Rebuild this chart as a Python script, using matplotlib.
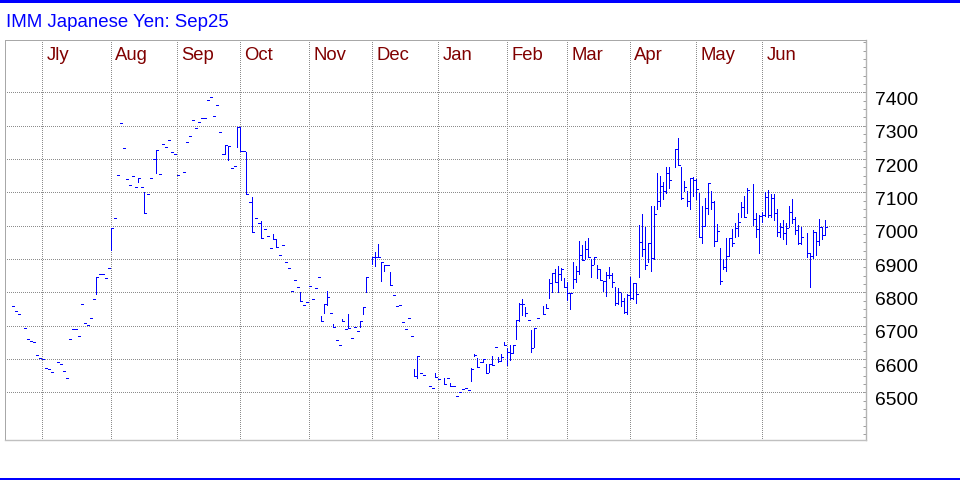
import matplotlib
matplotlib.use("Agg")
import matplotlib.pyplot as plt
import matplotlib.transforms as mtransforms
from matplotlib.patches import Rectangle
from matplotlib.ticker import MultipleLocator

plt.rcParams['font.family'] = ['Liberation Sans', 'DejaVu Sans']

title = "IMM Japanese Yen: Sep25"

# first trading slot of each month
month_names = ['Jly', 'Aug', 'Sep', 'Oct', 'Nov', 'Dec', 'Jan', 'Feb', 'Mar', 'Apr', 'May', 'Jun']
month_slots = [14, 37, 59, 80, 103, 124, 146, 169, 189, 210, 232, 254]

price_ticks = [6500, 6600, 6700, 6800, 6900, 7000, 7100, 7200, 7300, 7400]

# days with only a settlement (no traded range)
tick_day = [4, 5, 6, 8, 9, 10, 11, 12, 13, 14, 15, 16, 17, 19, 20, 21, 22, 23, 24, 25,
            26, 27, 28, 29, 30, 31, 33, 34, 35, 36, 38, 39, 40, 41, 42, 43, 44, 45, 47, 49,
            50, 51, 53, 54, 55, 56, 57, 58, 59, 61, 62, 63, 64, 65, 66, 67, 68, 69, 70, 71,
            72, 73, 74, 77, 78, 81, 83, 85, 86, 88, 89, 90, 93, 94, 95, 96, 97, 98, 99, 101,
            102, 103, 104, 105, 106, 110, 112, 113, 115, 117, 118, 119, 129, 131, 132, 133, 134, 135, 136, 137,
            140, 141, 143, 144, 146, 149, 151, 152, 153, 154, 155, 156, 160, 165, 176, 179]
tick_close = [6758, 6743, 6734, 6692, 6659, 6653, 6650, 6611, 6603, 6600, 6572, 6569, 6560, 6590, 6584, 6563, 6542, 6659, 6689, 6689,
              6668, 6764, 6707, 6701, 6722, 6779, 6854, 6854, 6842, 6872, 7022, 7151, 7307, 7232, 7139, 7121, 7148, 7115, 7115, 7094,
              7142, 7199, 7154, 7244, 7235, 7256, 7220, 7214, 7151, 7160, 7250, 7268, 7316, 7292, 7310, 7322, 7322, 7376, 7385, 7328,
              7361, 7280, 7214, 7172, 7178, 7223, 7070, 7022, 7007, 6989, 6968, 6932, 6911, 6941, 6890, 6872, 6803, 6836, 6815, 6761,
              6770, 6818, 6779, 6812, 6845, 6737, 6656, 6641, 6689, 6663, 6695, 6683, 6883, 6791, 6758, 6761, 6710, 6689, 6722, 6668,
              6557, 6551, 6518, 6512, 6539, 6542, 6518, 6488, 6500, 6509, 6512, 6506, 6590, 6635, 6716, 6722]

# traded days: high / low / close
bar_day = [32, 37, 46, 48, 52, 75, 76, 79, 80, 82,
           84, 87, 91, 92, 100, 107, 108, 109, 111, 114,
           116, 120, 121, 122, 124, 125, 126, 127, 128, 130,
           138, 139, 145, 148, 150, 157, 158, 159, 161, 162,
           163, 164, 166, 167, 168, 169, 170, 171, 172, 173,
           174, 175, 177, 178, 181, 182, 183, 184, 185, 186,
           187, 188, 189, 190, 191, 192, 193, 194, 195, 196,
           197, 198, 199, 200, 201, 202, 203, 204, 205, 206,
           207, 208, 209, 210, 211, 212, 213, 214, 215, 216,
           217, 218, 219, 220, 221, 222, 223, 225, 226, 227,
           228, 229, 230, 231, 232, 233, 234, 235, 236, 237,
           238, 239, 240, 241, 242, 243, 244, 245, 246, 247,
           248, 249, 251, 252, 253, 254, 255, 256, 257, 258,
           259, 260, 261, 262, 263, 264, 265, 266, 267, 269,
           270, 271, 272, 273, 274, 275]
bar_high = [6845, 6992, 7142, 7100, 7226, 7241, 7238, 7295, 7295, 7221,
            7085, 7014, 6974, 6959, 6800, 6728, 6764, 6803, 6704, 6719,
            6734, 6713, 6755, 6845, 6905, 6920, 6944, 6890, 6883, 6860,
            6569, 6608, 6557, 6542, 6527, 6572, 6614, 6602, 6599, 6584,
            6584, 6608, 6605, 6614, 6650, 6632, 6641, 6641, 6716, 6767,
            6779, 6755, 6686, 6692, 6758, 6764, 6839, 6857, 6869, 6878,
            6872, 6842, 6830, 6797, 6890, 6878, 6953, 6941, 6953, 6962,
            6899, 6905, 6881, 6869, 6833, 6860, 6875, 6857, 6815, 6812,
            6797, 6782, 6794, 6845, 6827, 6827, 7001, 7035, 6995, 6949,
            7059, 7059, 7159, 7149, 7131, 7175, 7175, 7229, 7262, 7175,
            7134, 7104, 7144, 7145, 7139, 7097, 7059, 7084, 7129, 7104,
            7074, 7004, 6934, 6899, 6964, 6964, 6989, 7007, 7037, 7070,
            7089, 7112, 7125, 7037, 7032, 7040, 7102, 7107, 7094, 7094,
            7049, 7007, 7017, 7007, 7059, 7079, 7027, 7002, 6997, 6979,
            6917, 6987, 6982, 7019, 6997, 7017]
bar_low = [6794, 6927, 7132, 7037, 7157, 7214, 7196, 7235, 7223, 7094,
           6982, 6962, 6959, 6935, 6773, 6713, 6739, 6761, 6695, 6713,
           6692, 6695, 6734, 6800, 6884, 6878, 6905, 6833, 6865, 6821,
           6548, 6542, 6545, 6524, 6518, 6533, 6608, 6575, 6590, 6557,
           6560, 6581, 6590, 6593, 6641, 6581, 6597, 6617, 6659, 6713,
           6731, 6728, 6620, 6635, 6734, 6752, 6782, 6800, 6830, 6800,
           6836, 6815, 6776, 6751, 6812, 6830, 6854, 6896, 6899, 6905,
           6845, 6884, 6842, 6836, 6803, 6788, 6842, 6815, 6761, 6764,
           6758, 6737, 6734, 6779, 6779, 6767, 6845, 6910, 6869, 6890,
           6865, 6899, 7049, 7059, 7079, 7099, 7114, 7177, 7182, 7079,
           7104, 7059, 7049, 7089, 7079, 6965, 6949, 6999, 7034, 7049,
           6939, 6954, 6825, 6869, 6865, 6909, 6939, 6967, 6969, 7027,
           7027, 7037, 7002, 6967, 6919, 7010, 7029, 7027, 7027, 7017,
           6970, 6967, 6959, 6944, 6997, 7007, 6974, 6945, 6945, 6905,
           6817, 6902, 6912, 6942, 6959, 6972]
bar_close = [6845, 6992, 7142, 7037, 7226, 7241, 7238, 7295, 7223, 7094,
             6982, 6962, 6959, 6935, 6773, 6713, 6764, 6785, 6695, 6713,
             6692, 6713, 6755, 6845, 6905, 6905, 6905, 6890, 6883, 6821,
             6548, 6608, 6545, 6524, 6518, 6569, 6611, 6575, 6599, 6557,
             6584, 6581, 6593, 6605, 6641, 6620, 6617, 6641, 6716, 6764,
             6764, 6737, 6632, 6692, 6734, 6752, 6827, 6857, 6830, 6854,
             6869, 6815, 6797, 6797, 6839, 6863, 6911, 6896, 6929, 6905,
             6881, 6905, 6869, 6836, 6833, 6851, 6851, 6830, 6767, 6800,
             6773, 6740, 6791, 6782, 6827, 6794, 6950, 6930, 6882, 6949,
             6904, 7034, 7074, 7119, 7104, 7159, 7136, 7229, 7182, 7084,
             7116, 7074, 7144, 7136, 7109, 6965, 6999, 7052, 7127, 7072,
             6954, 6984, 6835, 6877, 6910, 6962, 6947, 6992, 7012, 7055,
             7027, 7107, 7019, 6989, 7030, 7032, 7087, 7032, 7082, 7039,
             6980, 6995, 6977, 6994, 7042, 7020, 6987, 6947, 6965, 6917,
             6909, 6980, 6955, 6995, 6972, 6995]

W, H = 960, 480
blue = '#0000ff'
px = 72 / 100  # one pixel in points
fig = plt.figure(figsize=(W / 100, H / 100), dpi=100)
fig.patch.set_facecolor('white')

# blue rules at top and bottom of the picture
fig.add_artist(Rectangle((0, 1 - 3 / H), 1, 3 / H, transform=fig.transFigure, color=blue, lw=0))
fig.add_artist(Rectangle((0, 0), 1, 2.5 / H, transform=fig.transFigure, color=blue, lw=0))
fig.text(6 / W, 1 - 27.3 / H, title, color=blue, fontsize=13.4, va='baseline', ha='left')

ax = fig.add_axes([5 / W, 40 / H, 860.7 / W, 400 / H])
ax.set_xlim(1.57, 288.47)
ax.set_ylim(6357, 7557)

tick_w = 0.7
ax.vlines(bar_day, bar_low, bar_high, color=blue, lw=px, antialiased=False)
ax.hlines(bar_close, bar_day, [d + tick_w for d in bar_day], color=blue, lw=px, antialiased=False)
ax.hlines(tick_close, tick_day, [d + tick_w for d in tick_day], color=blue, lw=px, antialiased=False)

dots = (0, (1, 2))
ax.set_xticks(month_slots)
ax.set_yticks(price_ticks)
ax.yaxis.set_minor_locator(MultipleLocator(25))
ax.grid(True, which='major', color='#8c8c8c', lw=px, linestyle=dots, antialiased=False)
ax.set_axisbelow(True)
ax.tick_params(axis='x', length=0, labelbottom=False)
ax.tick_params(axis='y', which='both', direction='in', length=2.2, width=px, color='#a0a0a0',
               left=False, right=True, labelleft=False, labelright=False)

for side in ['top', 'left']:
    ax.spines[side].set_linestyle(dots)
    ax.spines[side].set_color('#a8a8a8')
    ax.spines[side].set_linewidth(px)
    ax.spines[side].set_antialiased(False)
ax.spines['bottom'].set_color('#c0c0c0')
ax.spines['bottom'].set_linewidth(1.0)
ax.spines['right'].set_color('#b4b4b4')
ax.spines['right'].set_linewidth(1.0)

# price labels sit a little under their grid line
ylab_tr = mtransforms.offset_copy(ax.get_yaxis_transform(), fig=fig, x=9.5, y=-12.7, units='dots')
for p in price_ticks:
    ax.text(1, p, str(p), transform=ylab_tr, fontsize=13.9, color='black', ha='left', va='baseline')

mon_tr = mtransforms.offset_copy(ax.get_xaxis_transform(), fig=fig, x=4, y=-20, units='dots')
for name, slot in zip(month_names, month_slots):
    ax.text(slot, 1, name, transform=mon_tr, fontsize=13.3, color='#800000', ha='left', va='baseline')

fig.savefig('out.png', dpi=100)
